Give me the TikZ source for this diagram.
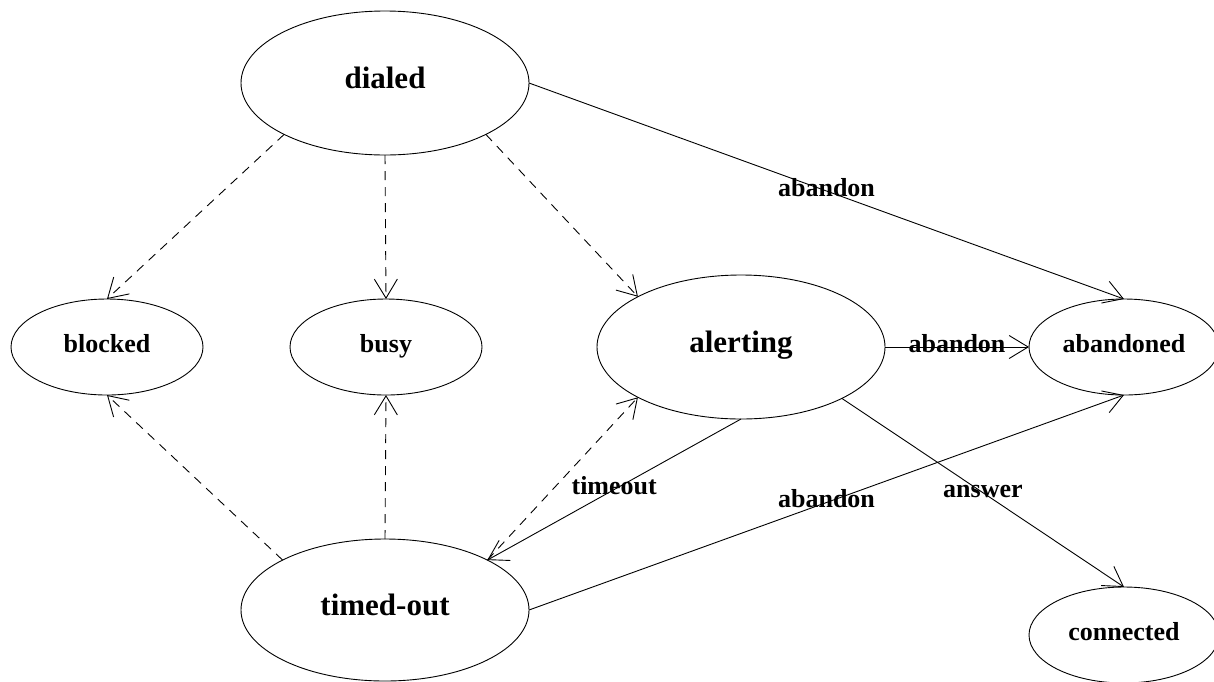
\documentclass[tikz,border=0pt]{standalone}
\usepackage{fontspec}
\setmainfont{Liberation Serif}
\usetikzlibrary{shapes.geometric,arrows.meta}
\begin{document}
\begin{tikzpicture}[x=1pt,y=-1pt,
  st/.style={ellipse,draw,line width=0.9pt,inner sep=0pt,outer sep=0pt,text height=10pt,text depth=0pt,font=\bfseries\fontsize{26}{26}\selectfont},
  big/.style={st,font=\bfseries\fontsize{31}{31}\selectfont},
  tr/.style={line width=0.9pt,-{Straight Barb[length=19pt,width=23pt]}},
  dsh/.style={tr,dash pattern=on 9pt off 7pt},
  lbl/.style={font=\bfseries\fontsize{26}{26}\selectfont,text height=10pt,text depth=0pt,inner sep=0pt}]
\useasboundingbox (0,0) rectangle (1214,681);
\node[big,minimum width=288pt,minimum height=144pt] (dialed) at (385,83) {dialed};
\node[st,minimum width=192pt,minimum height=96pt] (blocked) at (107,347) {blocked};
\node[st,minimum width=192pt,minimum height=96pt] (busy) at (386,347) {busy};
\node[big,minimum width=288pt,minimum height=144pt] (alerting) at (741,347) {alerting};
\node[st,minimum width=190pt,minimum height=96pt] (abandoned) at (1124,347) {abandoned};
\node[big,minimum width=288pt,minimum height=142pt] (timedout) at (385,610) {timed-out};
\node[st,minimum width=190pt,minimum height=96pt] (connected) at (1124,635) {connected};

\draw[dsh] (dialed.207) -- (blocked.90);
\draw[dsh] (dialed.270) -- (busy.90);
\draw[dsh] (dialed.333) -- (alerting.154);
\draw[tr] (dialed.0) -- node[lbl]{abandon} (abandoned.90);
\draw[tr] (alerting.0) -- node[lbl]{abandon} (abandoned.180);
\draw[tr] (alerting.333) -- node[lbl]{answer} (connected.90);
\draw[tr] (alerting.270) -- node[lbl]{timeout} (timedout.26);
\draw[dsh] (timedout.26) -- (alerting.206);
\draw[dsh] (timedout.154) -- (blocked.270);
\draw[dsh] (timedout.90) -- (busy.270);
\draw[tr] (timedout.0) -- node[lbl]{abandon} (abandoned.270);
\end{tikzpicture}
\end{document}
